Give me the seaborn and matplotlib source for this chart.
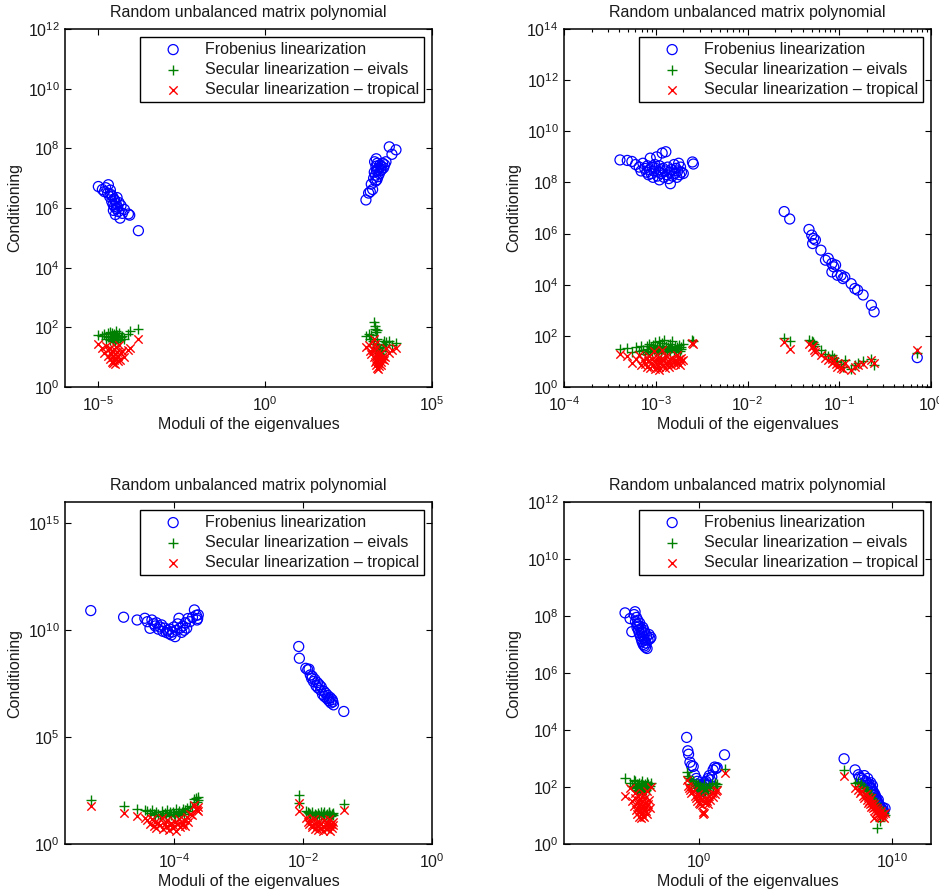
import numpy as np
import pandas as pd
import matplotlib
matplotlib.use("Agg")
import matplotlib.pyplot as plt
from matplotlib.ticker import FixedLocator, NullLocator, LogLocator
import seaborn as sns

# ---------------- data (log10 of the values) ----------------
TITLE = "Random unbalanced matrix polynomial"
XLABEL = "Moduli of the eigenvalues"
YLABEL = "Conditioning"
LABELS = ["Frobenius linearization",
          "Secular linearization \u2013 eivals",
          "Secular linearization \u2013 tropical"]

# Panel 1 (top left)
p1a_x = [-5.00, -4.88, -4.82, -4.78, -4.72, -4.70, -4.66, -4.64, -4.62, -4.60, -4.58, -4.56, -4.55, -4.53, -4.52,
         -4.50, -4.49, -4.47, -4.46, -4.44, -4.42, -4.40, -4.38, -4.35, -4.32, -4.28, -4.22, -4.10, -4.06, -3.80]
p1a_frob = [6.72, 6.62, 6.55, 6.68, 6.50, 6.78, 6.38, 6.60, 6.45, 6.22, 6.40, 6.12, 5.92, 6.30, 6.05,
            6.25, 5.78, 6.15, 5.98, 6.35, 6.02, 5.88, 6.18, 5.66, 6.08, 5.82, 5.95, 5.80, 5.76, 5.24]
p1a_eiv = [1.74, 1.70, 1.78, 1.62, 1.80, 1.68, 1.85, 1.58, 1.72, 1.66, 1.82, 1.60, 1.55, 1.76, 1.64,
           1.70, 1.52, 1.88, 1.62, 1.74, 1.58, 1.68, 1.80, 1.56, 1.66, 1.72, 1.62, 1.78, 1.88, 1.96]
p1a_trop = [1.43, 1.30, 1.15, 1.38, 1.05, 1.25, 0.95, 1.32, 1.10, 0.85, 1.20, 1.00, 0.80, 1.28, 0.92,
            1.12, 0.78, 1.35, 0.98, 1.18, 0.88, 1.05, 1.40, 0.90, 1.15, 1.22, 1.02, 1.25, 1.30, 1.60]

p1b_x = [3.02, 3.10, 3.15, 3.18, 3.22, 3.25, 3.27, 3.28, 3.30, 3.31, 3.32, 3.33, 3.34, 3.35, 3.36,
         3.37, 3.38, 3.40, 3.42, 3.44, 3.46, 3.48, 3.50, 3.52, 3.55, 3.58, 3.62, 3.72, 3.80, 3.92]
p1b_frob = [6.27, 6.50, 6.55, 6.80, 6.62, 7.00, 7.20, 7.55, 7.10, 6.90, 7.40, 7.65, 7.25, 6.95, 7.50,
            7.30, 7.05, 7.35, 7.15, 7.45, 7.25, 7.40, 7.30, 7.50, 7.35, 7.45, 7.55, 8.05, 7.80, 7.95]
p1b_eiv = [1.70, 1.78, 1.62, 1.74, 1.55, 1.45, 2.18, 1.95, 2.05, 1.35, 1.85, 1.20, 1.60, 1.00, 1.90,
           1.40, 0.95, 1.30, 1.15, 1.25, 1.10, 1.05, 1.20, 1.45, 1.55, 1.35, 1.50, 1.55, 1.42, 1.48]
p1b_trop = [1.35, 1.40, 1.20, 1.10, 1.25, 1.60, 1.00, 1.45, 0.85, 0.75, 1.30, 0.90, 1.15, 0.65, 1.05,
            0.80, 0.60, 0.95, 0.70, 1.10, 0.85, 0.75, 0.95, 1.05, 0.90, 1.00, 1.30, 1.15, 1.25, 1.30]

# Panel 2 (top right)
p2a_x = [-3.39, -3.31, -3.26, -3.22, -3.18, -3.16, -3.14, -3.12, -3.10, -3.09, -3.08, -3.07, -3.06, -3.05, -3.04,
         -3.03, -3.02, -3.01, -3.00, -2.99, -2.98, -2.97, -2.96, -2.96, -2.95, -2.94, -2.93, -2.92, -2.91, -2.90,
         -2.89, -2.88, -2.87, -2.86, -2.85, -2.84, -2.83, -2.82, -2.80, -2.79, -2.78, -2.77, -2.76, -2.75, -2.74,
         -2.73, -2.72, -2.70, -2.60, -2.59]
p2a_frob = [8.88, 8.86, 8.82, 8.70, 8.60, 8.45, 8.75, 8.55, 8.40, 8.65, 8.30, 8.50, 8.95, 8.35, 8.60,
            8.20, 8.45, 8.70, 8.55, 9.00, 8.25, 8.40, 8.65, 8.10, 8.50, 8.35, 9.15, 8.55, 8.20, 8.45,
            9.20, 8.30, 8.60, 8.15, 8.40, 7.95, 8.50, 8.25, 8.70, 8.35, 8.55, 8.20, 8.45, 8.75, 8.30,
            8.60, 8.40, 8.35, 8.80, 8.72]
p2a_eiv = [1.50, 1.52, 1.35, 1.55, 1.40, 1.60, 1.45, 1.30, 1.62, 1.50, 1.38, 1.70, 1.42, 1.55, 1.35,
           1.65, 1.48, 1.75, 1.40, 1.58, 1.32, 1.52, 1.80, 1.45, 1.62, 1.38, 1.72, 1.50, 1.85, 1.42,
           1.60, 1.35, 1.55, 1.48, 1.68, 1.40, 1.52, 1.78, 1.45, 1.62, 1.38, 1.55, 1.48, 1.65, 1.42,
           1.58, 1.50, 1.70, 1.85, 1.80]
p2a_trop = [1.30, 1.20, 0.95, 1.10, 1.25, 0.85, 1.05, 0.90, 1.15, 0.80, 1.00, 1.20, 0.75, 0.95, 1.10,
            0.85, 1.40, 0.70, 1.05, 0.90, 1.15, 0.80, 1.00, 0.65, 0.95, 1.10, 1.45, 0.85, 1.05, 0.75,
            1.20, 0.90, 1.00, 0.80, 1.10, 0.95, 0.85, 1.15, 1.00, 0.90, 1.05, 1.25, 0.95, 1.10, 0.85,
            1.00, 1.15, 1.05, 1.72, 1.68]

p2b_x = [-1.60, -1.54, -1.33, -1.30, -1.28, -1.26, -1.29, -1.20, -1.15, -1.12, -1.08, -1.04, -1.06,
         -1.02, -1.08, -0.98, -0.96, -0.94, -0.87, -0.83, -0.80, -0.74, -0.65, -0.62, -0.15]
p2b_frob = [6.86, 6.57, 6.16, 5.94, 5.81, 5.75, 5.61, 5.35, 4.96, 5.03, 4.83, 4.77, 4.70,
            4.37, 4.50, 4.37, 4.24, 4.30, 4.04, 3.85, 3.79, 3.60, 3.20, 2.94, 1.15]
p2b_eiv = [1.90, 1.80, 1.85, 1.78, 1.70, 1.62, 1.75, 1.45, 1.30, 1.20, 1.10, 1.02, 1.15,
           0.98, 1.25, 0.90, 0.80, 1.05, 0.72, 0.85, 0.95, 1.00, 1.10, 0.86, 1.33]
p2b_trop = [1.76, 1.50, 1.70, 1.55, 1.45, 1.38, 1.60, 1.25, 1.15, 1.05, 0.95, 0.88, 1.00,
            0.80, 1.10, 0.75, 0.70, 0.92, 0.65, 0.78, 0.85, 0.90, 1.05, 0.95, 1.45]

# Panel 3 (bottom left)
p3a_x = [-5.30, -4.79, -4.58, -4.46, -4.42, -4.38, -4.35, -4.32, -4.30, -4.28, -4.25, -4.22, -4.20, -4.18,
         -4.15, -4.13, -4.11, -4.09, -4.07, -4.05, -4.03, -4.01, -3.99, -3.97, -3.95, -3.93, -3.91, -3.89,
         -3.87, -3.85, -3.83, -3.81, -3.79, -3.76, -3.72, -3.69, -3.66, -3.64, -3.63, -3.65]
p3a_frob = [10.92, 10.61, 10.48, 10.56, 10.40, 10.09, 10.48, 10.30, 10.20, 10.35, 10.05, 10.15, 10.25, 9.95,
            10.10, 9.90, 10.00, 9.85, 10.05, 9.78, 9.92, 10.15, 9.70, 10.00, 10.30, 10.56, 10.10, 9.90,
            10.20, 10.00, 10.35, 10.10, 10.55, 10.40, 10.60, 10.95, 10.70, 10.55, 10.72, 10.48]
p3a_eiv = [2.07, 1.76, 1.64, 1.60, 1.55, 1.45, 1.58, 1.40, 1.35, 1.50, 1.42, 1.30, 1.55, 1.38,
           1.45, 1.32, 1.60, 1.40, 1.48, 1.35, 1.52, 1.42, 1.30, 1.65, 1.45, 1.55, 1.38, 1.50,
           1.62, 1.40, 1.58, 1.70, 1.55, 1.80, 1.72, 2.10, 2.15, 2.05, 2.20, 1.95]
p3a_trop = [1.76, 1.45, 1.29, 1.20, 1.10, 0.95, 1.15, 0.85, 1.05, 0.75, 1.00, 0.90, 1.20, 0.70,
            0.95, 0.80, 1.10, 0.65, 0.90, 1.00, 0.75, 0.85, 1.05, 0.60, 0.95, 1.15, 0.80, 0.90,
            1.00, 1.10, 0.85, 1.25, 1.05, 1.40, 1.35, 1.84, 1.65, 1.55, 1.75, 1.60]

p3b_x = [-2.07, -2.06, -1.96, -1.93, -1.91, -1.89, -1.87, -1.86, -1.84, -1.82, -1.80, -1.78, -1.77, -1.75, -1.73,
         -1.72, -1.70, -1.68, -1.67, -1.65, -1.63, -1.62, -1.60, -1.58, -1.57, -1.55, -1.53, -1.54, -1.60, -1.37]
p3b_frob = [9.24, 8.69, 8.22, 8.15, 8.18, 7.91, 7.75, 7.85, 7.60, 7.70, 7.40, 7.55, 7.30, 7.45, 7.20,
            7.35, 7.00, 7.15, 6.90, 7.05, 6.80, 6.95, 6.70, 6.85, 6.60, 6.75, 6.51, 6.65, 6.80, 6.20]
p3b_eiv = [2.30, 1.90, 1.55, 1.50, 1.45, 1.40, 1.35, 1.50, 1.30, 1.42, 1.38, 1.29, 1.45, 1.35, 1.50,
           1.32, 1.40, 1.30, 1.48, 1.36, 1.42, 1.33, 1.45, 1.38, 1.30, 1.40, 1.35, 1.45, 1.50, 1.87]
p3b_trop = [1.92, 1.53, 1.20, 1.05, 0.95, 1.10, 0.80, 0.90, 1.15, 0.70, 1.00, 0.85, 0.65, 1.05, 0.75,
            0.95, 0.60, 1.10, 0.80, 0.90, 0.70, 1.00, 0.85, 0.62, 0.95, 0.75, 1.05, 0.88, 1.15, 1.60]

# Panel 4 (bottom right)
p4a_x = [-3.84, -3.58, -3.49, -3.32, -3.37, -3.30, -3.25, -3.22, -3.20, -3.18, -3.15, -3.12, -3.10, -3.08,
         -3.05, -3.02, -3.00, -2.98, -2.96, -2.94, -2.92, -2.90, -2.88, -2.86, -2.84, -2.82, -2.80, -2.78,
         -2.75, -2.72, -2.70, -2.65, -2.60, -2.55, -2.50]
p4a_frob = [8.11, 7.91, 7.45, 8.15, 8.05, 7.80, 7.95, 7.60, 7.70, 7.85, 7.50, 7.65, 7.40, 7.75,
            7.30, 7.55, 7.20, 7.45, 7.10, 7.35, 7.60, 7.00, 7.25, 7.50, 6.95, 7.15, 7.40, 6.90,
            7.05, 7.30, 6.86, 7.15, 7.35, 7.20, 7.25]
p4a_eiv = [2.31, 2.15, 2.05, 2.20, 2.25, 2.00, 1.95, 2.10, 1.90, 2.05, 1.85, 2.15, 1.95, 2.00,
           1.88, 2.10, 1.92, 2.05, 1.85, 2.20, 1.95, 2.08, 1.90, 2.00, 1.85, 2.12, 1.95, 2.05,
           1.90, 2.18, 2.00, 2.10, 1.95, 2.05, 2.15]
p4a_trop = [1.67, 1.95, 1.50, 1.80, 1.35, 1.60, 1.20, 1.45, 1.05, 1.70, 1.30, 0.95, 1.55, 1.15,
            1.40, 0.91, 1.25, 1.65, 1.10, 1.50, 1.00, 1.35, 1.75, 1.20, 0.95, 1.45, 1.60, 1.15,
            1.30, 1.85, 1.05, 1.40, 1.55, 1.25, 2.00]

p4b_x = [-0.65, -0.59, -0.55, -0.48, -0.40, -0.31, -0.24, -0.15, -0.10, -0.05, 0.00, 0.03, 0.06, 0.10, 0.14,
         0.18, 0.22, 0.26, 0.30, 0.35, 0.40, 0.45, 0.52, 0.58, 0.65, 0.72, 0.80, 0.88, 0.93, 1.31]
p4b_frob = [3.74, 3.27, 3.15, 2.87, 2.75, 2.72, 2.43, 2.30, 2.20, 2.10, 2.00, 2.05, 1.95, 1.90, 1.85,
            2.00, 1.92, 2.10, 2.15, 2.20, 2.05, 2.30, 2.40, 2.25, 2.35, 2.60, 2.70, 2.65, 2.68, 3.13]
p4b_eiv = [2.54, 2.40, 2.30, 2.25, 2.10, 2.20, 2.05, 2.15, 1.95, 2.10, 2.00, 1.90, 2.05, 1.85, 2.00,
           1.95, 1.75, 2.10, 1.85, 2.00, 1.90, 1.80, 2.05, 1.95, 2.10, 2.00, 2.15, 2.05, 2.10, 2.64]
p4b_trop = [2.25, 2.05, 1.95, 1.90, 1.80, 1.85, 1.70, 1.60, 1.50, 1.75, 1.45, 1.40, 1.65, 1.55, 1.38,
            1.14, 1.05, 1.10, 1.45, 1.60, 1.50, 1.40, 1.70, 1.55, 1.80, 1.65, 1.75, 1.85, 1.90, 2.49]

p4c_x = [7.50, 8.07, 8.24, 8.30, 8.40, 8.48, 8.55, 8.62, 8.68, 8.72, 8.76, 8.80, 8.84, 8.88, 8.91,
         8.94, 8.97, 9.00, 9.03, 9.06, 9.09, 9.12, 9.15, 9.18, 9.21, 9.24, 9.27, 9.30, 9.34, 9.38,
         9.42, 9.46, 9.50, 9.55, 9.62]
p4c_frob = [2.99, 2.60, 2.43, 2.35, 2.30, 2.25, 2.40, 2.20, 2.15, 2.30, 2.05, 2.10, 2.00, 2.15, 1.95,
            1.90, 2.05, 1.85, 1.80, 1.70, 1.75, 1.60, 1.65, 1.55, 1.50, 1.45, 1.55, 1.40, 1.35, 1.30,
            1.25, 1.20, 1.28, 1.15, 1.25]
p4c_eiv = [2.60, 2.15, 2.19, 2.05, 2.10, 1.95, 2.00, 1.85, 1.90, 1.75, 1.80, 1.70, 1.65, 1.75, 1.55,
           1.60, 1.50, 1.45, 1.55, 1.35, 1.40, 1.30, 1.45, 1.25, 0.56, 1.20, 1.30, 1.15, 1.10, 0.79,
           1.20, 1.05, 1.15, 1.10, 1.03]
p4c_trop = [2.37, 1.96, 1.90, 1.80, 1.85, 1.70, 1.60, 1.75, 1.55, 1.65, 1.45, 1.50, 1.40, 1.60, 1.30,
            1.45, 1.35, 1.25, 0.91, 1.40, 1.20, 1.30, 1.10, 1.25, 1.15, 1.05, 1.20, 1.00, 1.10, 0.95,
            1.15, 1.00, 1.05, 0.91, 1.10]

# axis settings per panel: xlim/ylim exponents and tick exponents
xlims = [(-6, 5), (-4, 0), (-5.70, 0), (-7, 12)]
ylims = [(0, 12), (0, 14), (0, 16), (0, 12)]
xticks = [[-5, 0, 5], [-4, -3, -2, -1, 0], [-4, -2, 0], [0, 10]]
yticks = [list(range(0, 13, 2)), list(range(0, 15, 2)), [0, 5, 10, 15], list(range(0, 13, 2))]

panels = [
    [(p1a_x, p1a_frob, p1a_eiv, p1a_trop), (p1b_x, p1b_frob, p1b_eiv, p1b_trop)],
    [(p2a_x, p2a_frob, p2a_eiv, p2a_trop), (p2b_x, p2b_frob, p2b_eiv, p2b_trop)],
    [(p3a_x, p3a_frob, p3a_eiv, p3a_trop), (p3b_x, p3b_frob, p3b_eiv, p3b_trop)],
    [(p4a_x, p4a_frob, p4a_eiv, p4a_trop), (p4b_x, p4b_frob, p4b_eiv, p4b_trop),
     (p4c_x, p4c_frob, p4c_eiv, p4c_trop)],
]

# ---------------- style ----------------
sns.set_theme(style="ticks")
FONT = ["Liberation Sans", "DejaVu Sans"]
plt.rcParams["font.family"] = FONT
plt.rcParams["mathtext.fontset"] = "custom"
plt.rcParams["mathtext.rm"] = "Liberation Sans"
plt.rcParams["mathtext.it"] = "Liberation Sans:italic"
plt.rcParams["axes.unicode_minus"] = True
FS = 11.5
TXT = "#1a1a1a"

fig = plt.figure(figsize=(9.39, 8.90), dpi=100)
W, H = 939.0, 890.0
boxes = [(65, 29, 432, 387), (564, 29, 931, 387), (65, 502, 432, 844), (564, 502, 931, 844)]

for i, (l, t, r, b) in enumerate(boxes):
    ax = fig.add_axes([l / W, 1 - b / H, (r - l) / W, (b - t) / H])
    ax.set_xscale("log")
    ax.set_yscale("log")
    frames = []
    for (cx, cf, ce, ct) in panels[i]:
        n = len(cx)
        for lab, yy in zip(LABELS, (cf, ce, ct)):
            frames.append(pd.DataFrame({"x": np.power(10.0, cx), "y": np.power(10.0, yy), "method": [lab] * n}))
    df = pd.concat(frames, ignore_index=True)
    sub = df[df.method == LABELS[0]]
    sns.scatterplot(data=sub, x="x", y="y", ax=ax, marker="o", s=52, facecolor="none",
                    edgecolor="#0000ff", linewidth=0.9, label=LABELS[0])
    sub = df[df.method == LABELS[1]]
    sns.scatterplot(data=sub, x="x", y="y", ax=ax, marker="+", s=62, color="#008000",
                    linewidth=1.0, label=LABELS[1])
    sub = df[df.method == LABELS[2]]
    sns.scatterplot(data=sub, x="x", y="y", ax=ax, marker="x", s=36, color="#ff0000",
                    linewidth=1.0, label=LABELS[2])

    ax.set_xlim(10.0 ** xlims[i][0], 10.0 ** xlims[i][1])
    ax.set_ylim(10.0 ** ylims[i][0], 10.0 ** ylims[i][1])
    ax.xaxis.set_major_locator(FixedLocator([10.0 ** e for e in xticks[i]]))
    ax.yaxis.set_major_locator(FixedLocator([10.0 ** e for e in yticks[i]]))
    ax.yaxis.set_minor_locator(NullLocator())
    if i == 1:
        ax.xaxis.set_minor_locator(LogLocator(base=10, subs=np.arange(2, 10), numticks=50))
    else:
        ax.xaxis.set_minor_locator(NullLocator())
    ax.tick_params(which="both", direction="in", top=True, right=True, labelsize=FS,
                   colors="black", labelcolor=TXT, width=0.8)
    ax.tick_params(which="major", length=4.5, pad=6)
    ax.tick_params(which="minor", length=2.5)
    ax.tick_params(axis="y", pad=4)
    for sp in ax.spines.values():
        sp.set_linewidth(1.1)
        sp.set_color("black")
        sp.set_visible(True)
    ax.set_title(TITLE, fontsize=FS, pad=9, color=TXT)
    ax.set_xlabel(XLABEL, fontsize=FS, labelpad=2, color=TXT)
    ax.set_ylabel(YLABEL, fontsize=FS, labelpad=4, color=TXT)
    leg = ax.legend(loc="upper right", fontsize=FS, frameon=True, fancybox=False, framealpha=1,
                    edgecolor="black", borderpad=0.3, labelspacing=0.33, handlelength=3.6,
                    handletextpad=0.2, borderaxespad=0.5, scatterpoints=1)
    leg.get_frame().set_linewidth(1.0)
    for t in leg.get_texts():
        t.set_color(TXT)

fig.savefig("out.png", dpi=100)
